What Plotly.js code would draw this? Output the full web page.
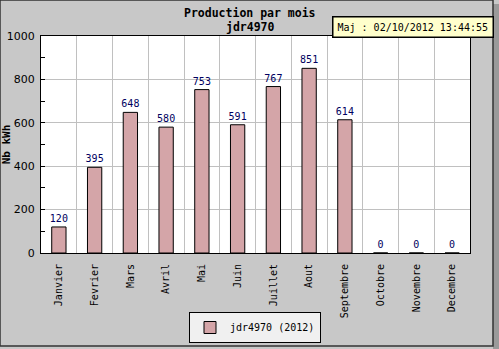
<!DOCTYPE html>
<html><head><meta charset="utf-8">
<script src="https://cdn.plot.ly/plotly-3.0.1.min.js"></script>
<style>body{margin:0;padding:0;background:#c8c8c8}#c{width:499px;height:349px}</style>
</head><body><div id="c"></div>
<script>
const months = ["Janvier","Fevrier","Mars","Avril","Mai","Juin","Juillet","Aout","Septembre","Octobre","Novembre","Decembre"];
const production = [120,395,648,580,753,591,767,851,614,0,0,0];
const seriesName = "jdr4970 (2012)";
const titleLines = ["Production par mois","jdr4970"];
const yTitle = "Nb kWh";
const updateText = "Maj : 02/10/2012 13:44:55";

const mono = "DejaVu Sans Mono, monospace";
const L = 41, R = 29, T = 36, B = 96, W = 499, H = 349;
const pw = W - L - R, ph = H - T - B;
const px = x => (x - L) / pw;
const py = y => (H - B - y) / ph;

const trace = {
  type: "bar", x: months, y: production, name: seriesName,
  width: 0.4,
  marker: {color: "#d4a5a8", line: {color: "#000", width: 1}},
  text: production.map(String), textposition: "outside", constraintext: "none",
  textfont: {family: mono, size: 10, color: "#000060"},
  cliponaxis: false
};

const layout = {
  width: W, height: H,
  paper_bgcolor: "#c8c8c8", plot_bgcolor: "#ffffff",
  margin: {l: L, r: R, t: T, b: B},
  font: {family: mono, size: 10, color: "#000"},
  showlegend: true,
  legend: {xref: "container", yref: "container", x: 189 / W, y: (H - 343) / H, xanchor: "left", yanchor: "bottom",
           orientation: "h", bgcolor: "#f0f0f0", bordercolor: "#000", borderwidth: 1,
           font: {family: mono, size: 10, color: "#000"}},
  xaxis: {type: "category", tickson: "boundaries", showgrid: true, gridcolor: "#c0c0c0", gridwidth: 1,
          automargin: false,
          ticks: "", tickangle: -90, tickfont: {family: mono, size: 10, color: "#000"}, ticklabelstandoff: 6,
          showline: true, linecolor: "#000", linewidth: 1, mirror: true, ticklen: 0},
  yaxis: {range: [0, 1000], dtick: 200, tick0: 0, ticks: "inside", ticklen: 4, tickcolor: "#000",
          automargin: false,
          showgrid: true, gridcolor: "#c0c0c0", gridwidth: 1, zeroline: false,
          showline: true, linecolor: "#000", linewidth: 1, mirror: true, ticklabelstandoff: 3,
          tickfont: {family: "DejaVu Sans, sans-serif", size: 11, color: "#000"},
          minor: {dtick: 100, ticks: "inside", ticklen: 4, tickcolor: "#000", showgrid: false},
          title: {text: "<b>" + yTitle + "</b>", standoff: 0, font: {family: mono, size: 11, color: "#000"}}},
  shapes: [
    {type: "rect", xref: "paper", yref: "paper", x0: px(493), x1: px(499), y0: py(4), y1: py(349),
     fillcolor: "#9a9a9a", line: {width: 0}, layer: "below"},
    {type: "rect", xref: "paper", yref: "paper", x0: px(0), x1: px(493), y0: py(0), y1: py(346),
     fillcolor: "rgba(0,0,0,0)", line: {color: "#333", width: 1.5}, layer: "above"}
  ],
  annotations: [
    {xref: "paper", yref: "paper", x: px(250), y: py(13), xanchor: "center", yanchor: "middle",
     text: "<b>" + titleLines[0] + "</b>", showarrow: false, font: {family: mono, size: 11.5, color: "#000"}},
    {xref: "paper", yref: "paper", x: px(250), y: py(27), xanchor: "center", yanchor: "middle",
     text: "<b>" + titleLines[1] + "</b>", showarrow: false, font: {family: mono, size: 11.5, color: "#000"}},
    {xref: "paper", yref: "paper", x: px(413), y: py(27), xanchor: "center", yanchor: "middle",
     text: updateText, showarrow: false, bgcolor: "#ffffcc", bordercolor: "#000", borderwidth: 1.5, borderpad: 4,
     font: {family: mono, size: 10, color: "#000"}}
  ]
};

Plotly.newPlot("c", [trace], layout, {displayModeBar: false, staticPlot: true});
</script></body></html>
